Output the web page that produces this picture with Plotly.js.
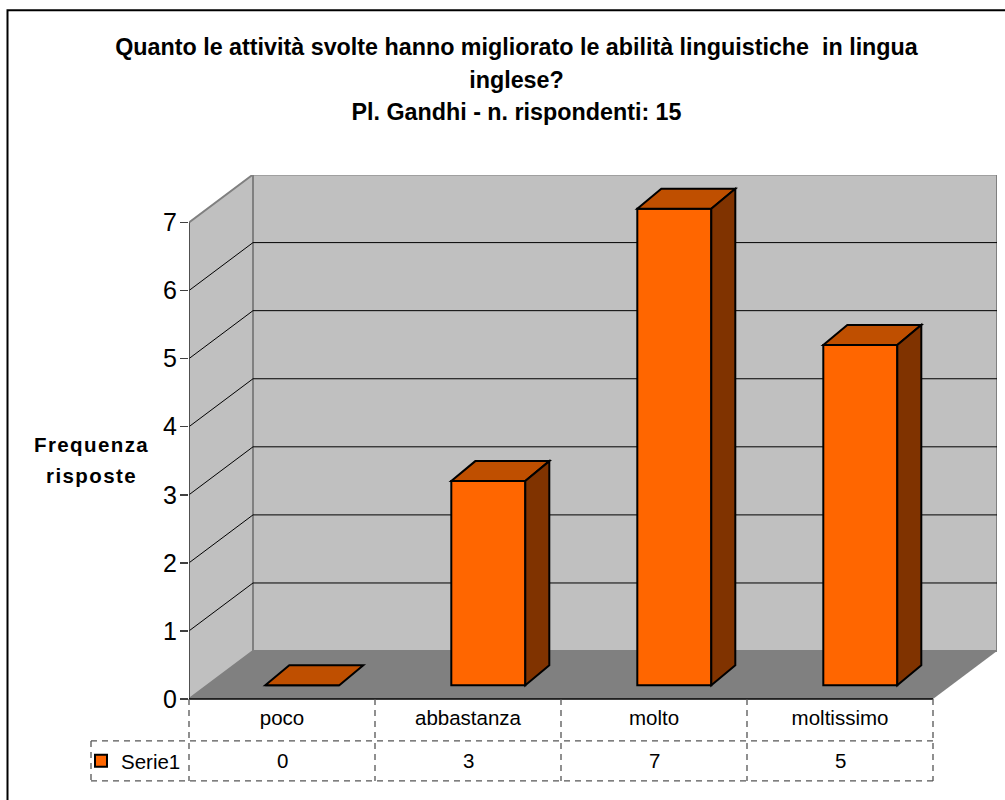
<!DOCTYPE html>
<html>
<head>
<meta charset="utf-8">
<script src="https://cdn.plot.ly/plotly-3.0.1.min.js"></script>
<style>html,body{margin:0;padding:0;background:#fff;overflow:hidden}</style>
</head>
<body>
<div id="chart" style="width:1005px;height:800px"></div>
<script>
const categories = ['poco', 'abbastanza', 'molto', 'moltissimo'];
const values = [0, 3, 7, 5];
const seriesName = 'Serie1';
const yTicks = [0, 1, 2, 3, 4, 5, 6, 7];
const titleLines = [
  'Quanto le attività svolte hanno migliorato le abilità linguistiche  in lingua',
  'inglese?',
  'Pl. Gandhi - n. rispondenti: 15'
];

const W = 1005, H = 800;
const L = 189, R = 997, T = 174.5, B = 699;   // plot box including the 3D depth
const unitX = 186, unitY = 68.14;             // pixels per category / per value
const wallDx = 64 / unitX, wallDy = 48 / unitY;   // depth of the back wall
const barDx = 20.3 / unitX, barDy = 13.7 / unitY; // front of bars from the axis plane
const depthX = 24 / unitX, depthY = 20 / unitY;   // bar depth
const barW = 74 / unitX;
const xMin = -0.5, xMax = xMin + (R - L) / unitX;
const yMax = (B - T) / unitY;
const px = x => (x - L) / (R - L);
const py = y => (B - y) / (B - T);

const poly = pts => 'M' + pts.map(p => p[0] + ' ' + p[1]).join('L') + 'Z';
const shapes = [];
const xEnd = xMin + categories.length;

// walls and floor
shapes.push({type:'path', layer:'below', xref:'x', yref:'y', fillcolor:'#c0c0c0', line:{color:'#808080', width:2},
  path: poly([[xMin,0],[xMin+wallDx,wallDy],[xMin+wallDx,7+wallDy],[xMin,7]])});
shapes.push({type:'path', layer:'below', xref:'x', yref:'y', fillcolor:'#c0c0c0', line:{color:'#808080', width:2},
  path: poly([[xMin+wallDx,wallDy],[xEnd+wallDx,wallDy],[xEnd+wallDx,7+wallDy],[xMin+wallDx,7+wallDy]])});
shapes.push({type:'path', layer:'below', xref:'x', yref:'y', fillcolor:'#808080', line:{color:'#808080', width:0},
  path: poly([[xMin,0],[xEnd,0],[xEnd+wallDx,wallDy],[xMin+wallDx,wallDy]])});

// gridlines on side wall and back wall
yTicks.filter(v => v > 0 && v < 7).forEach(v => {
  shapes.push({type:'line', layer:'below', xref:'x', yref:'y', x0:xMin, y0:v, x1:xMin+wallDx, y1:v+wallDy, line:{color:'#000', width:1}});
  shapes.push({type:'line', layer:'below', xref:'x', yref:'y', x0:xMin+wallDx, y0:v+wallDy, x1:xEnd+wallDx, y1:v+wallDy, line:{color:'#000', width:1}});
});

// axis lines
shapes.push({type:'line', layer:'below', xref:'x', yref:'y', x0:xMin, y0:0, x1:xMin, y1:7, line:{color:'#404040', width:1.5}});
shapes.push({type:'line', layer:'above', xref:'paper', yref:'paper', x0:px(L), y0:py(B), x1:px(933), y1:py(B), line:{color:'#000', width:1.5}});

// 3D faces of the bars
values.forEach((v, i) => {
  const xl = i + barDx - barW / 2, xr = i + barDx + barW / 2, yb = barDy, yt = v + barDy;
  shapes.push({type:'path', layer:'above', xref:'x', yref:'y', fillcolor:'#bf4f00', line:{color:'#000', width:2},
    path: poly([[xl,yt],[xr,yt],[xr+depthX,yt+depthY],[xl+depthX,yt+depthY]])});
  if (v > 0) shapes.push({type:'path', layer:'above', xref:'x', yref:'y', fillcolor:'#803300', line:{color:'#000', width:2},
    path: poly([[xr,yb],[xr+depthX,yb+depthY],[xr+depthX,yt+depthY],[xr,yt]])});
});

// data table grid
const dashLine = {color:'#555', width:1.3, dash:'6px,5px'};
const tableLine = (x0, y0, x1, y1) => shapes.push({type:'line', layer:'above', xref:'paper', yref:'paper',
  x0:px(x0), y0:py(y0), x1:px(x1), y1:py(y1), line:dashLine});
const rowA = 741, rowB = 781, tableLeft = 91;
tableLine(tableLeft, rowA, 933, rowA);
tableLine(tableLeft, rowB, 933, rowB);
tableLine(tableLeft, rowA, tableLeft, rowB);
for (let i = 0; i <= categories.length; i++) tableLine(L + i * unitX, B, L + i * unitX, rowB);

// outer chart frame (runs off the right and bottom of the picture)
shapes.push({type:'rect', layer:'above', xref:'paper', yref:'paper', x0:px(7.5), y0:py(9.5), x1:px(1020), y1:py(815),
  fillcolor:'rgba(0,0,0,0)', line:{color:'#000', width:2}});

// data-table values and the y-axis caption
const annotations = values.map((v, i) => ({
  x:i, xref:'x', y:py(761), yref:'paper', yanchor:'middle', xanchor:'center', showarrow:false,
  text:String(v), font:{family:'Liberation Sans, Arial, sans-serif', size:20.5, color:'#000'}
}));
annotations.push({
  x:px(91.5), xref:'paper', y:py(460), yref:'paper', xanchor:'center', yanchor:'middle', showarrow:false, align:'center',
  text:'<span style="font-size:20.5px;letter-spacing:1.4px">Frequenza</span><br><span style="font-size:20.5px;letter-spacing:1.4px">risposte</span>',
  font:{family:'Liberation Sans, Arial, sans-serif', size:24, color:'#000', weight:'bold'}
});

const trace = {
  type:'bar',
  name:seriesName,
  x:categories.map((c, i) => i + barDx),
  y:values,
  base:barDy,
  width:barW,
  marker:{color:'#ff6600', line:{color:'#000', width:2}},
  showlegend:true,
  hoverinfo:'skip'
};

const layout = {
  width:W, height:H,
  margin:{l:L, r:W-R, t:T, b:H-B, pad:0},
  paper_bgcolor:'#fff', plot_bgcolor:'rgba(0,0,0,0)',
  font:{family:'Liberation Sans, Arial, sans-serif', color:'#000'},
  title:{
    text:titleLines.map(t => '<span style="font-size:23.3px">' + t + '</span>').join('<br>'),
    font:{family:'Liberation Sans, Arial, sans-serif', size:25, color:'#000', weight:'bold'},
    x:516.5/W, xanchor:'center', xref:'container', y:1-55/H, yanchor:'top', yref:'container'
  },
  xaxis:{
    type:'linear', range:[xMin, xMax], tickmode:'array',
    tickvals:categories.map((c, i) => i), ticktext:categories,
    ticks:'', showgrid:false, zeroline:false, showline:false,
    tickfont:{size:20.5, color:'#000'}, ticklabelstandoff:4, fixedrange:true
  },
  yaxis:{
    range:[0, yMax], tickmode:'array', tickvals:yTicks, ticktext:yTicks.map(String),
    ticks:'outside', ticklen:8, tickwidth:1.5, tickcolor:'#404040',
    showgrid:false, zeroline:false, showline:false, ticklabelstandoff:-2,
    tickfont:{size:25, color:'#000'}, fixedrange:true
  },
  showlegend:true,
  legend:{x:px(87), xanchor:'left', y:py(761), yanchor:'middle', bgcolor:'rgba(0,0,0,0)', borderwidth:0, indentation:-6,
    font:{size:20.5, color:'#000'}, itemclick:false, itemdoubleclick:false},
  shapes:shapes,
  annotations:annotations,
  bargap:0
};

Plotly.newPlot('chart', [trace], layout, {displayModeBar:false, staticPlot:true});
</script>
</body>
</html>
